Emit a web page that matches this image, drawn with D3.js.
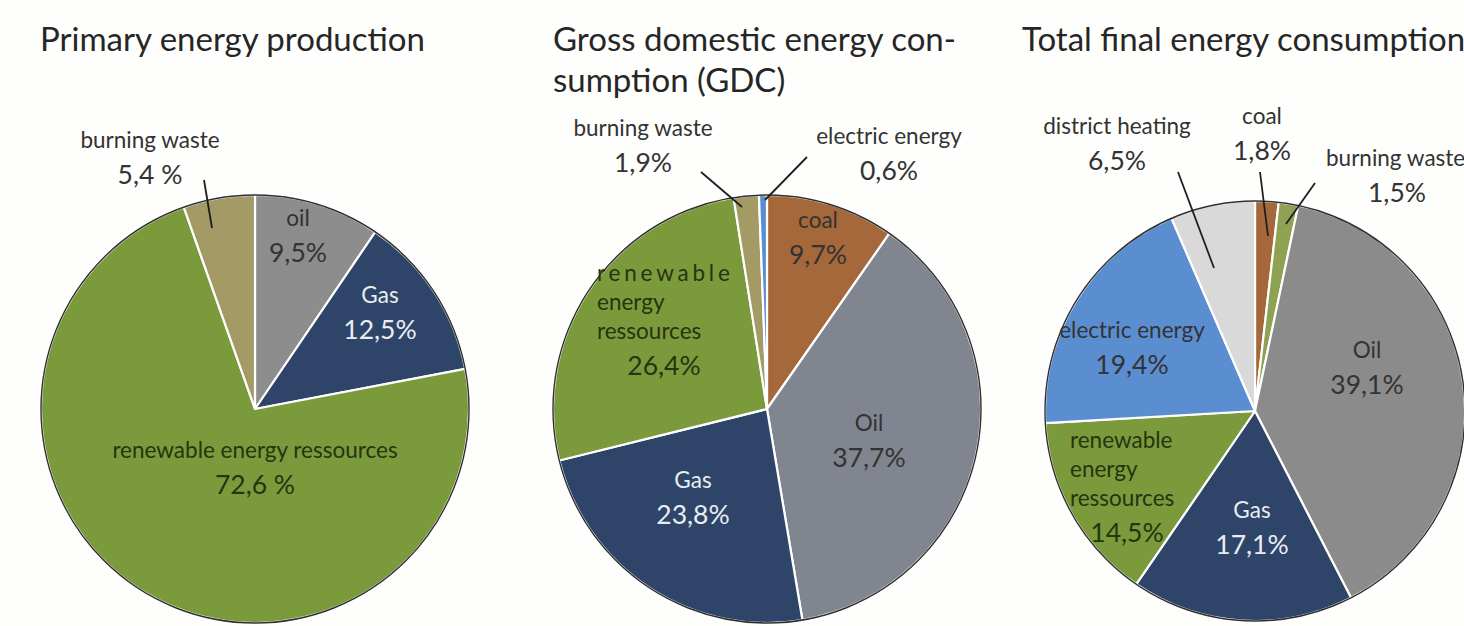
<!DOCTYPE html>
<html><head><meta charset="utf-8">
<script src="https://cdn.jsdelivr.net/npm/d3@7"></script>
<style>
html,body{margin:0;padding:0;background:#fefefc;}
svg{display:block;font-family:Lato,"Noto Sans",sans-serif;}
</style></head>
<body>
<svg id="chart" width="1464" height="626"></svg>
<script>
// ---- data ----
const titles = [["Primary energy production"], ["Gross domestic energy con-", "sumption (GDC)"], ["Total final energy consumption"]];

const prodCategories = ["oil", "Gas", "renewable energy ressources", "burning waste"];
const prodValues = [9.5, 12.5, 72.6, 5.4];
const prodLabels = ["9,5%", "12,5%", "72,6 %", "5,4 %"];

const gdcCategories = ["coal", "Oil", "Gas", "renewable energy ressources", "burning waste", "electric energy"];
const gdcValues = [9.7, 37.7, 23.8, 26.4, 1.9, 0.6];
const gdcLabels = ["9,7%", "37,7%", "23,8%", "26,4%", "1,9%", "0,6%"];

const finCategories = ["coal", "burning waste", "Oil", "Gas", "renewable energy ressources", "electric energy", "district heating"];
const finValues = [1.8, 1.5, 39.1, 17.1, 14.5, 19.4, 6.5];
const finLabels = ["1,8%", "1,5%", "39,1%", "17,1%", "14,5%", "19,4%", "6,5%"];

// ---- styling / layout ----
const C = {
  green: "#7b9a3c", navy: "#2e4569", gray: "#8d8d8d", bluegray: "#80858f", gray3: "#8b8b8b",
  brown: "#a5683a", blue: "#5b8ed0", lgray: "#d9d9d9", khaki: "#a39a66", olive: "#8fa254"
};
const darkTxt = "#333333", greenTxt = "#26340f", whiteTxt = "#e9edf2";

const pies = [
  { cx: 255, cy: 409, r: 214, values: prodValues, cats: prodCategories, labels: prodLabels,
    colors: [C.gray, C.navy, C.green, C.khaki],
    titleX: 40, titleY: [51],
    text: [
      {lines: ["oil"], val: 0, dx: 43, dy: -189, color: darkTxt},
      {lines: ["Gas"], val: 1, dx: 125, dy: -112, color: whiteTxt},
      {lines: ["renewable energy ressources"], val: 2, dx: 0, dy: 43, color: greenTxt},
      {lines: ["burning waste"], val: 3, dx: -105, dy: -267, color: darkTxt, leader: [[-51, -229], [-43, -181]]}
    ]},
  { cx: 767, cy: 409, r: 214, values: gdcValues, cats: gdcCategories, labels: gdcLabels,
    colors: [C.brown, C.bluegray, C.navy, C.green, C.khaki, C.blue],
    titleX: 553, titleY: [51, 92],
    text: [
      {lines: ["coal"], val: 0, dx: 51, dy: -187, color: darkTxt},
      {lines: ["Oil"], val: 1, dx: 102, dy: 16, color: darkTxt},
      {lines: ["Gas"], val: 2, dx: -74, dy: 73, color: whiteTxt},
      {lines: ["renewable", "energy", "ressources"], val: 3, dx: -170, dy: -134, color: greenTxt, anchor: "start", spacedFirst: true, valDx: -103},
      {lines: ["burning waste"], val: 4, dx: -124, dy: -279, color: darkTxt, leader: [[-66, -237], [-25, -202]]},
      {lines: ["electric energy"], val: 5, dx: 122, dy: -271, color: darkTxt, leader: [[40, -252], [-2, -209]]}
    ]},
  { cx: 1255, cy: 411, r: 210, values: finValues, cats: finCategories, labels: finLabels,
    colors: [C.brown, C.olive, C.gray3, C.navy, C.green, C.blue, C.lgray],
    titleX: 1022, titleY: [51],
    text: [
      {lines: ["coal"], val: 0, dx: 7, dy: -293, color: darkTxt, leader: [[5, -239], [13, -175]]},
      {lines: ["burning waste"], val: 1, dx: 71, dy: -251, color: darkTxt, anchor: "start", valDx: 142, leader: [[60, -228], [31, -187]]},
      {lines: ["Oil"], val: 2, dx: 112, dy: -59, color: darkTxt},
      {lines: ["Gas"], val: 3, dx: -3, dy: 101, color: whiteTxt},
      {lines: ["renewable", "energy", "ressources"], val: 4, dx: -185, dy: 31, color: greenTxt, anchor: "start", valDx: -128},
      {lines: ["electric energy"], val: 5, dx: -123, dy: -79, color: darkTxt},
      {lines: ["district heating"], val: 6, dx: -138, dy: -283, color: darkTxt, leader: [[-77, -239], [-41, -143]]}
    ]}
];

const svg = d3.select("#chart");
const nameSize = 22.5, valSize = 26.5, lineH = 29, titleSize = 33;

pies.forEach((p, pi) => {
  titles[pi].forEach((t, i) => {
    svg.append("text").attr("x", p.titleX).attr("y", p.titleY[i])
      .attr("font-size", titleSize).attr("fill", "#262626").text(t);
  });

  const g = svg.append("g").attr("transform", `translate(${p.cx},${p.cy})`);
  const pie = d3.pie().sort(null).value(d => d)(p.values);
  const arc = d3.arc().innerRadius(0).outerRadius(p.r);
  g.selectAll("path.slice").data(pie).join("path")
    .attr("class", "slice")
    .attr("d", arc)
    .attr("fill", (d, i) => p.colors[i])
    .attr("stroke", "#ffffff").attr("stroke-width", 2.2).attr("stroke-linejoin", "round");
  g.append("circle").attr("r", p.r).attr("fill", "none").attr("stroke", "#2f2f2f").attr("stroke-width", 1.4);

  p.text.forEach(t => {
    const anchor = t.anchor || "middle";
    t.lines.forEach((ln, i) => {
      const tx = g.append("text").attr("x", t.dx).attr("y", t.dy + i * lineH)
        .attr("text-anchor", anchor).attr("font-size", nameSize).attr("fill", t.color)
        .attr("dominant-baseline", "middle").text(ln);
      if (t.spacedFirst && i === 0) tx.attr("letter-spacing", 3.8);
    });
    const vx = t.valDx !== undefined ? t.valDx : t.dx;
    g.append("text").attr("x", vx).attr("y", t.dy + t.lines.length * lineH + 6)
      .attr("text-anchor", "middle").attr("font-size", valSize).attr("fill", t.color)
      .attr("dominant-baseline", "middle").text(p.labels[t.val]);
    if (t.leader) {
      g.append("line").attr("x1", t.leader[0][0]).attr("y1", t.leader[0][1])
        .attr("x2", t.leader[1][0]).attr("y2", t.leader[1][1])
        .attr("stroke", "#1e1e1e").attr("stroke-width", 1.8);
    }
  });
});
</script>
</body></html>
